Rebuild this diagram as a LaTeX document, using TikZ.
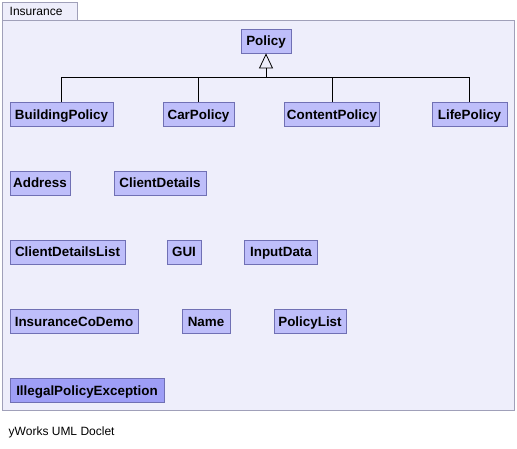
\documentclass[tikz,border=0pt]{standalone}
\usepackage{fontspec}
\setmainfont{Liberation Sans}
\usetikzlibrary{arrows.meta,calc}
\definecolor{pkgbg}{RGB}{238,238,251}
\definecolor{pkgline}{RGB}{160,160,185}
\definecolor{clsfill}{RGB}{190,190,250}
\definecolor{excfill}{RGB}{158,158,246}
\definecolor{clsline}{RGB}{112,112,180}
\tikzset{>=Stealth,cls/.style={draw=clsline,fill=clsfill,font=\fontsize{13.4}{15}\selectfont\bfseries,inner xsep=2pt,inner ysep=0pt,text height=9.4pt,text depth=-.6pt,minimum height=24pt,minimum width=#1},cls/.default=40pt,
exc/.style={cls=#1,fill=excfill},gen/.style={thick,-{Triangle[open,width=14pt,length=15pt]}},edge/.style={thick}}

\begin{document}
\begin{tikzpicture}[x=1pt,y=-1pt,line width=.8pt]
\useasboundingbox (0,0) rectangle (517,448);
\draw[pkgline,fill=pkgbg] (2.5,2.5) rectangle (77,20);\node[anchor=west,font=\fontsize{12}{14}\selectfont] (tab) at (6,11.5){Insurance};
\draw[pkgline,fill=pkgbg] (2.5,20) rectangle (514,410);
\node[anchor=west,font=\fontsize{12}{14}\selectfont] (doclet) at (5,432){yWorks UML Doclet};
% class boxes
\node[cls=50pt] (Policy) at (266,41){Policy};
\node[cls=103pt] (BuildingPolicy) at (61.5,114.5){BuildingPolicy};\node[cls=71pt] (CarPolicy) at (198.5,114.5){CarPolicy};
\node[cls=95pt] (ContentPolicy) at (332,114.5){ContentPolicy};\node[cls=75pt] (LifePolicy) at (469.5,114.5){LifePolicy};
\node[cls=60pt] (Address) at (40,183){Address};\node[cls=92pt] (ClientDetails) at (160,183){ClientDetails};
\node[cls=115pt] (ClientDetailsList) at (67.5,252){ClientDetailsList};\node[cls=34pt] (GUI) at (184,252){GUI};\node[cls=73pt] (InputData) at (281,252){InputData};
\node[cls=128pt] (InsuranceCoDemo) at (74,321.5){InsuranceCoDemo};\node[cls=48pt] (Name) at (206,321.5){Name};\node[cls=72pt] (PolicyList) at (310,321.5){PolicyList};
\node[exc=154pt] (IllegalPolicyException) at (87,390.5){IllegalPolicyException};
% generalisation
\coordinate (J) at ($(Policy.south)+(0,24)$);
\draw[edge] (BuildingPolicy.north) |- (J);\draw[edge] (CarPolicy.north) |- (J);
\draw[edge] (ContentPolicy.north) |- (J);\draw[edge] (LifePolicy.north) |- (J);
\draw[gen] (J)--(Policy.south);
\end{tikzpicture}
\end{document}
